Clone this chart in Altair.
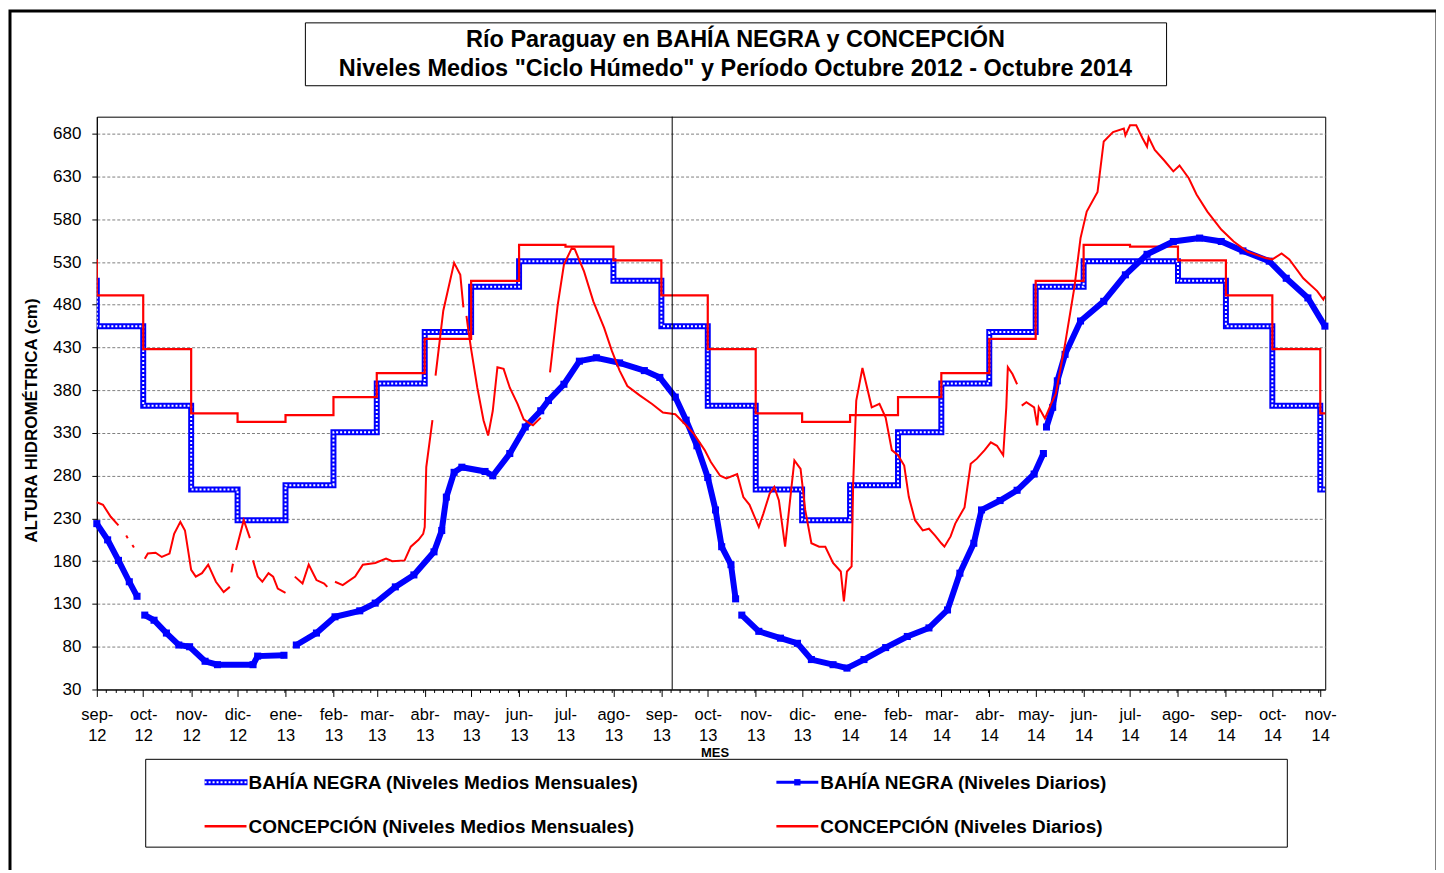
import altair as alt
import pandas as pd

FONT = "Liberation Sans"

TITLE_LINES = ["Río Paraguay en BAHÍA NEGRA y CONCEPCIÓN",
               "Niveles Medios \"Ciclo Húmedo\" y Período Octubre 2012 - Octubre 2014"]

SERIES = [
    "BAHÍA NEGRA (Niveles Medios Mensuales)",
    "BAHÍA NEGRA (Niveles Diarios)",
    "CONCEPCIÓN (Niveles Medios Mensuales)",
    "CONCEPCIÓN (Niveles Diarios)",
]
COLORS = ["#0000FF", "#0000FF", "#FF0000", "#FF0000"]

# Monthly means of the "ciclo húmedo", September .. August
CYCLE_MONTHS = ["sep", "oct", "nov", "dic", "ene", "feb", "mar", "abr", "may", "jun", "jul", "ago"]
BN_MENSUAL = [455, 362, 264, 228, 269, 331, 388, 448, 501, 531, 531, 508]
CONC_MENSUAL = [491, 428, 353, 343, 351, 372, 400, 440, 508, 550, 548, 532]

Y_TICKS = [30, 80, 130, 180, 230, 280, 330, 380, 430, 480, 530, 580, 630, 680]
DIVIDER_DATE = "2013-09-08"

# Daily levels (cm), one list per continuous stretch of record
BN_DIARIO = [
    [("2012-09-01", 224), ("2012-09-08", 205), ("2012-09-15", 181), ("2012-09-22", 156), ("2012-09-27", 139)],
    [("2012-10-02", 117), ("2012-10-08", 111), ("2012-10-16", 96), ("2012-10-24", 82), ("2012-10-31", 80),
     ("2012-11-10", 63), ("2012-11-18", 59), ("2012-12-11", 59), ("2012-12-14", 69), ("2012-12-31", 70)],
    [("2013-01-08", 82), ("2013-01-21", 96), ("2013-02-02", 115), ("2013-02-18", 122), ("2013-02-28", 131),
     ("2013-03-13", 150), ("2013-03-25", 164), ("2013-04-07", 191), ("2013-04-12", 216), ("2013-04-15", 255),
     ("2013-04-20", 284), ("2013-04-25", 290), ("2013-05-10", 285), ("2013-05-15", 280), ("2013-05-26", 306),
     ("2013-06-05", 337), ("2013-06-15", 356), ("2013-06-20", 368), ("2013-06-30", 387), ("2013-07-10", 414),
     ("2013-07-21", 418), ("2013-08-05", 412), ("2013-08-21", 403), ("2013-08-31", 395), ("2013-09-10", 372),
     ("2013-09-17", 345), ("2013-09-24", 315), ("2013-10-01", 278), ("2013-10-06", 240), ("2013-10-10", 197),
     ("2013-10-16", 176), ("2013-10-19", 136)],
    [("2013-10-23", 117), ("2013-11-03", 98), ("2013-11-17", 90), ("2013-11-28", 84), ("2013-12-07", 65),
     ("2013-12-21", 59), ("2013-12-30", 55), ("2014-01-10", 65), ("2014-01-24", 79), ("2014-02-07", 92),
     ("2014-02-21", 102), ("2014-03-05", 123), ("2014-03-13", 166), ("2014-03-22", 201), ("2014-03-27", 240),
     ("2014-04-08", 251), ("2014-04-19", 263), ("2014-04-30", 282), ("2014-05-06", 306)],
    [("2014-05-08", 337), ("2014-05-12", 360), ("2014-05-15", 391), ("2014-05-20", 422), ("2014-05-30", 461),
     ("2014-06-14", 484), ("2014-06-28", 515), ("2014-07-12", 539), ("2014-07-29", 554), ("2014-08-15", 558),
     ("2014-08-29", 554), ("2014-09-12", 543), ("2014-09-29", 531), ("2014-10-10", 511), ("2014-10-24", 488),
     ("2014-11-04", 455)],
]

CONC_DIARIO = [
    [("2012-09-01", 249), ("2012-09-05", 246), ("2012-09-10", 232), ("2012-09-15", 222)],
    [("2012-09-20", 210), ("2012-09-21", 207)],
    [("2012-09-24", 199), ("2012-09-25", 196)],
    [("2012-10-02", 183), ("2012-10-04", 189), ("2012-10-09", 190), ("2012-10-13", 185), ("2012-10-18", 189),
     ("2012-10-21", 212), ("2012-10-25", 226), ("2012-10-28", 216), ("2012-11-01", 170), ("2012-11-04", 162),
     ("2012-11-08", 166), ("2012-11-12", 176), ("2012-11-17", 156), ("2012-11-22", 144), ("2012-11-26", 150)],
    [("2012-11-27", 167), ("2012-11-28", 177)],
    [("2012-11-30", 193), ("2012-12-05", 228), ("2012-12-09", 207)],
    [("2012-12-11", 181), ("2012-12-14", 162), ("2012-12-17", 156), ("2012-12-21", 166), ("2012-12-24", 162),
     ("2012-12-27", 148), ("2013-01-01", 143)],
    [("2013-01-07", 162), ("2013-01-12", 154), ("2013-01-16", 176), ("2013-01-21", 158), ("2013-01-26", 154),
     ("2013-01-28", 150)],
    [("2013-02-02", 156), ("2013-02-07", 152), ("2013-02-15", 162), ("2013-02-20", 176), ("2013-02-28", 178),
     ("2013-03-07", 183), ("2013-03-11", 180), ("2013-03-19", 181), ("2013-03-23", 197), ("2013-03-28", 205),
     ("2013-03-31", 212), ("2013-04-01", 220), ("2013-04-02", 290), ("2013-04-06", 345)],
    [("2013-04-08", 397), ("2013-04-13", 473), ("2013-04-20", 529), ("2013-04-24", 515), ("2013-04-26", 477)],
    [("2013-04-28", 467), ("2013-04-29", 453), ("2013-05-01", 428), ("2013-05-05", 383), ("2013-05-09", 345),
     ("2013-05-12", 327), ("2013-05-15", 356), ("2013-05-18", 407), ("2013-05-22", 405), ("2013-05-26", 383),
     ("2013-05-31", 364), ("2013-06-04", 346), ("2013-06-08", 341), ("2013-06-10", 339), ("2013-06-15", 348)],
    [("2013-06-21", 401), ("2013-06-26", 480), ("2013-06-30", 527), ("2013-07-05", 546), ("2013-07-07", 545),
     ("2013-07-13", 519), ("2013-07-19", 484), ("2013-07-26", 453), ("2013-07-31", 426), ("2013-08-05", 403),
     ("2013-08-10", 385), ("2013-08-18", 374), ("2013-08-26", 364), ("2013-09-02", 354), ("2013-09-10", 352),
     ("2013-09-17", 339), ("2013-09-22", 329), ("2013-09-29", 310), ("2013-10-03", 296), ("2013-10-09", 280),
     ("2013-10-13", 277), ("2013-10-20", 282), ("2013-10-24", 255), ("2013-10-28", 246), ("2013-11-03", 220),
     ("2013-11-06", 236), ("2013-11-10", 259), ("2013-11-13", 267), ("2013-11-16", 251), ("2013-11-20", 197),
     ("2013-11-23", 248), ("2013-11-26", 298), ("2013-11-30", 288), ("2013-12-03", 240), ("2013-12-07", 201),
     ("2013-12-12", 197), ("2013-12-16", 197), ("2013-12-21", 178), ("2013-12-26", 168), ("2013-12-28", 133),
     ("2013-12-30", 168), ("2014-01-02", 174), ("2014-01-03", 271), ("2014-01-05", 368), ("2014-01-09", 406),
     ("2014-01-15", 360), ("2014-01-20", 364), ("2014-01-24", 348), ("2014-01-28", 310), ("2014-02-01", 304),
     ("2014-02-05", 292), ("2014-02-08", 255), ("2014-02-12", 228), ("2014-02-17", 216), ("2014-02-21", 218),
     ("2014-02-25", 210), ("2014-03-01", 201), ("2014-03-03", 197), ("2014-03-07", 209), ("2014-03-10", 224),
     ("2014-03-16", 243), ("2014-03-20", 294), ("2014-03-24", 300), ("2014-03-29", 310), ("2014-04-02", 319),
     ("2014-04-06", 315), ("2014-04-10", 304), ("2014-04-12", 360), ("2014-04-13", 407), ("2014-04-16", 399),
     ("2014-04-19", 387)],
    [("2014-04-22", 362), ("2014-04-25", 366), ("2014-04-30", 360), ("2014-05-02", 339), ("2014-05-03", 360),
     ("2014-05-07", 347), ("2014-05-11", 364), ("2014-05-14", 376), ("2014-05-20", 434), ("2014-05-26", 500),
     ("2014-05-30", 558), ("2014-06-03", 589), ("2014-06-10", 612), ("2014-06-14", 671), ("2014-06-20", 682),
     ("2014-06-27", 686), ("2014-06-28", 678), ("2014-07-01", 690), ("2014-07-05", 690), ("2014-07-09", 675),
     ("2014-07-12", 665), ("2014-07-13", 676), ("2014-07-17", 661), ("2014-07-23", 649), ("2014-07-29", 636),
     ("2014-08-02", 643), ("2014-08-08", 628), ("2014-08-13", 609), ("2014-08-20", 589), ("2014-08-29", 568),
     ("2014-09-06", 554), ("2014-09-15", 542), ("2014-09-26", 535), ("2014-10-01", 533), ("2014-10-07", 540),
     ("2014-10-12", 533), ("2014-10-21", 511), ("2014-10-30", 496), ("2014-11-03", 486), ("2014-11-04", 490)],
]

# ---------------------------------------------------------------- frames
step_dates = pd.date_range("2012-08-01", "2014-12-01", freq="MS")


def monthly_frame(values, name):
    rows = []
    for d in step_dates:
        rows.append({"fecha": d, "nivel": values[(d.month - 9) % 12], "serie": name})
    return pd.DataFrame(rows)


def daily_frame(segments, name):
    rows = []
    for i, seg in enumerate(segments):
        for d, v in seg:
            rows.append({"fecha": pd.Timestamp(d), "nivel": v, "serie": name, "tramo": i})
    return pd.DataFrame(rows)


bn_m = monthly_frame(BN_MENSUAL, SERIES[0])
conc_m = monthly_frame(CONC_MENSUAL, SERIES[2])
bn_d = daily_frame(BN_DIARIO, SERIES[1])
conc_d = daily_frame(CONC_DIARIO, SERIES[3])
divider = pd.DataFrame({"fecha": [pd.Timestamp(DIVIDER_DATE)]})
one = pd.DataFrame({"k": [0]})

# ---------------------------------------------------------------- encodings
x_scale = alt.Scale(domain=[alt.DateTime(year=2012, month=9, date=1),
                            alt.DateTime(year=2014, month=11, date=4, hours=5)])
y_scale = alt.Scale(domain=[30, 700], nice=False, zero=False)

x_axis = alt.Axis(
    tickCount={"interval": "day", "step": 6},
    labelExpr="date(datum.value) == 1 ? [['ene','feb','mar','abr','may','jun','jul','ago','sep','oct','nov','dic'][month(datum.value)] + '-', timeFormat(datum.value, '%y')] : ''",
    labelOverlap=False, labelFlush=False, labelBound=False,
    labelFont=FONT, labelFontSize=16.5, labelColor="black", labelPadding=10, labelLineHeight=21,
    tickSize={"condition": {"test": "date(datum.value) == 1", "value": 7}, "value": 3},
    tickColor="black", domainColor="black", grid=False,
    title="MES", titleFont=FONT, titleFontSize=13, titleFontWeight="bold", titleColor="black",
    titleX=619, titleY=57,
)
y_axis = alt.Axis(
    values=Y_TICKS, labelFont=FONT, labelFontSize=17, labelColor="black", labelPadding=11,
    tickSize=5, tickColor="black", domainColor="black",
    grid=True, gridDash=[3, 2], gridColor="#808080", gridWidth=1,
    title="ALTURA HIDROMÉTRICA (cm)", titleFont=FONT, titleFontSize=17, titleFontWeight="bold",
    titleColor="black", titlePadding=12, titleY=304,
)

X = alt.X("fecha:T", scale=x_scale, axis=x_axis)
Y = alt.Y("nivel:Q", scale=y_scale, axis=y_axis)
C = alt.Color("serie:N", scale=alt.Scale(domain=SERIES, range=COLORS), legend=None)

# ---------------------------------------------------------------- data layers
bn_band = alt.Chart(bn_m).mark_line(interpolate="step-after", strokeWidth=6, clip=True).encode(x=X, y=Y, color=C)
bn_dots = alt.Chart(bn_m).mark_line(interpolate="step-after", strokeWidth=2, strokeDash=[2, 2],
                                    color="white", clip=True).encode(x=X, y=Y)
conc_band = alt.Chart(conc_m).mark_line(interpolate="step-after", strokeWidth=2.2, clip=True).encode(x=X, y=Y, color=C)
bn_daily = alt.Chart(bn_d).mark_line(
    strokeWidth=6, point=alt.OverlayMarkDef(shape="square", size=50, filled=True, opacity=1)
).encode(x=X, y=Y, color=C, detail="tramo:N")
conc_daily = alt.Chart(conc_d).mark_line(strokeWidth=2).encode(x=X, y=Y, color=C, detail="tramo:N")
rule = alt.Chart(divider).mark_rule(color="black", strokeWidth=1).encode(x=X)


# ---------------------------------------------------------------- decorations (title, boxes, legend)
def box(x, x2, y, y2, sw):
    return alt.Chart(one).mark_rect(fillOpacity=0, stroke="black", strokeWidth=sw).encode(
        x=alt.value(x), x2=alt.value(x2), y=alt.value(y), y2=alt.value(y2))


def key_line(x, x2, y, color, width, dash=None):
    kw = dict(color=color, strokeWidth=width)
    if dash is not None:
        kw["strokeDash"] = dash
    return alt.Chart(one).mark_rule(**kw).encode(x=alt.value(x), x2=alt.value(x2), y=alt.value(y))


def text_at(x, y, label, size, align="left"):
    return alt.Chart(one).mark_text(
        align=align, baseline="middle", font=FONT, fontSize=size, fontWeight="bold", color="black"
    ).encode(x=alt.value(x), y=alt.value(y), text=alt.value(label))


title_layers = [
    text_at(640, -77, TITLE_LINES[0], 23.5, "center"),
    text_at(640, -48, TITLE_LINES[1], 23.5, "center"),
]

title_box = box(209, 1072, -94, -31, 1)
legend_box = box(49, 1193, 644, 732, 1)
frame = box(-87, 1343, -106, 790, 3)

legend_layers = [
    key_line(108, 151, 667, COLORS[0], 6),
    key_line(108, 151, 667, "white", 2, [2, 2]),
    text_at(152, 668, SERIES[0], 19),
    key_line(681, 723, 667, COLORS[1], 3),
    alt.Chart(one).mark_point(shape="square", filled=True, size=40, color=COLORS[1], opacity=1).encode(
        x=alt.value(702), y=alt.value(667)),
    text_at(725, 668, SERIES[1], 19),
    key_line(108, 150, 711, COLORS[2], 2.5),
    text_at(152, 712, SERIES[2], 19),
    key_line(681, 723, 711, COLORS[3], 2.5),
    text_at(725, 712, SERIES[3], 19),
]

chart = alt.layer(
    bn_band, bn_dots, conc_band, bn_daily, conc_daily, rule,
    title_box, legend_box, frame, *title_layers, *legend_layers
).properties(
    width=1231, height=574,
    autosize=alt.AutoSizeParams(type="none"),
    padding={"left": 89, "top": 108, "right": 111, "bottom": 180},
).configure_view(stroke="black", strokeWidth=1)

chart.save("out.html", embed_options={"renderer": "svg", "actions": False})
